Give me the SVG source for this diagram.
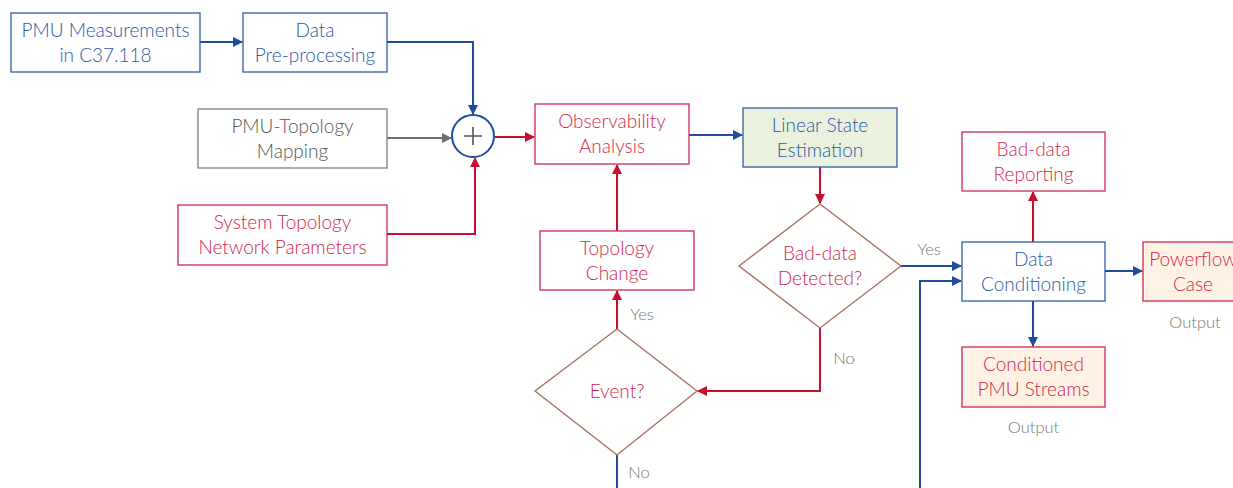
<svg xmlns="http://www.w3.org/2000/svg" width="1233" height="488" viewBox="0 0 1233 488">
  <defs>
    <style>
      text { font-family: Lato, "Noto Sans", "Liberation Sans", sans-serif; font-size: 19px; font-weight: 300; text-anchor: middle; }
      .blue { fill: #ffffff; stroke: #2f5ca8; stroke-width: 1.3; }
      .red { fill: #ffffff; stroke: #d3264f; stroke-width: 1.3; }
      .gray { fill: #ffffff; stroke: #7f7f7f; stroke-width: 1.3; }
      .green { fill: #eaf1dc; stroke: #2f5ca8; stroke-width: 1.3; }
      .out { fill: #fdf2e4; stroke: #d3264f; stroke-width: 1.3; }
      .dia { fill: #ffffff; stroke: #a56d5a; stroke-width: 1.3; }
      .tb { fill: #2b58a8; }
      .tr { fill: #d01f4c; }
      .tg { fill: #555555; }
      .lbl { fill: #777777; font-size: 16.5px; }
      .cb { fill: none; stroke: #1f4c9c; stroke-width: 2; }
      .cr { fill: none; stroke: #c8102e; stroke-width: 2; }
      .cg { fill: none; stroke: #6f6f6f; stroke-width: 2; }
    </style>
    <marker id="ab" viewBox="0 0 10 10" refX="9" refY="5" markerWidth="5" markerHeight="5" orient="auto">
      <path d="M0,0 L10,5 L0,10 z" fill="#1f4c9c"/>
    </marker>
    <marker id="ar" viewBox="0 0 10 10" refX="9" refY="5" markerWidth="5" markerHeight="5" orient="auto">
      <path d="M0,0 L10,5 L0,10 z" fill="#c8102e"/>
    </marker>
    <marker id="ag" viewBox="0 0 10 10" refX="9" refY="5" markerWidth="5" markerHeight="5" orient="auto">
      <path d="M0,0 L10,5 L0,10 z" fill="#6f6f6f"/>
    </marker>
  </defs>

  <g id="connectors">
    <path class="cb" d="M200,42 H242" marker-end="url(#ab)"/>
    <path class="cb" d="M387,42 H473 V114" marker-end="url(#ab)"/>
    <path class="cg" d="M387,138 H451" marker-end="url(#ag)"/>
    <path class="cr" d="M387,234 H475 V158" marker-end="url(#ar)"/>
    <path class="cr" d="M495,137 H534" marker-end="url(#ar)"/>
    <path class="cb" d="M689,135 H742" marker-end="url(#ab)"/>
    <path class="cr" d="M820,167 V203" marker-end="url(#ar)"/>
    <path class="cb" d="M901,266 H961" marker-end="url(#ab)"/>
    <path class="cb" d="M920,488 V281 H961" marker-end="url(#ab)"/>
    <path class="cr" d="M820,328 V391 H698" marker-end="url(#ar)"/>
    <path class="cr" d="M617,329 V291" marker-end="url(#ar)"/>
    <path class="cr" d="M617,231 V165" marker-end="url(#ar)"/>
    <path class="cb" d="M617,455 V488"/>
    <path class="cr" d="M1033,242 V192" marker-end="url(#ar)"/>
    <path class="cb" d="M1033,301 V346" marker-end="url(#ab)"/>
    <path class="cb" d="M1105,271 H1142" marker-end="url(#ab)"/>
  </g>

  <g id="pmu-measurements">
    <rect class="blue" x="11" y="13" width="189" height="59"/>
    <text class="tb" x="105.5" y="37">PMU Measurements</text>
    <text class="tb" x="105.5" y="62">in C37.118</text>
  </g>
  <g id="data-preprocessing">
    <rect class="blue" x="243" y="13" width="144" height="59"/>
    <text class="tb" x="315" y="37">Data</text>
    <text class="tb" x="315" y="62">Pre-processing</text>
  </g>
  <g id="pmu-topology-mapping">
    <rect class="gray" x="198" y="109" width="189" height="59"/>
    <text class="tg" x="292.5" y="133">PMU-Topology</text>
    <text class="tg" x="292.5" y="158">Mapping</text>
  </g>
  <g id="system-topology">
    <rect class="red" x="178" y="205" width="209" height="60"/>
    <text class="tr" x="282.5" y="229">System Topology</text>
    <text class="tr" x="282.5" y="254">Network Parameters</text>
  </g>
  <g id="summing-junction">
    <circle cx="473" cy="136" r="21" fill="#ffffff" stroke="#1f4c9c" stroke-width="2"/>
    <path d="M464,136 H482 M473,127 V145" stroke="#555555" stroke-width="1.6" fill="none"/>
  </g>
  <g id="observability-analysis">
    <rect class="red" x="535" y="104" width="154" height="60"/>
    <text class="tr" x="612" y="128">Observability</text>
    <text class="tr" x="612" y="153">Analysis</text>
  </g>
  <g id="linear-state-estimation">
    <rect class="green" x="743" y="108" width="154" height="59"/>
    <text class="tb" x="820" y="132">Linear State</text>
    <text class="tb" x="820" y="157">Estimation</text>
  </g>
  <g id="bad-data-detected">
    <polygon class="dia" points="820,204 901,266 820,328 739,266"/>
    <text class="tr" x="820" y="260">Bad-data</text>
    <text class="tr" x="820" y="285">Detected?</text>
  </g>
  <g id="topology-change">
    <rect class="red" x="540" y="231" width="154" height="59"/>
    <text class="tr" x="617" y="255">Topology</text>
    <text class="tr" x="617" y="280">Change</text>
  </g>
  <g id="event">
    <polygon class="dia" points="617,329 697,391 617,455 535,391"/>
    <text class="tr" x="617" y="398">Event?</text>
  </g>
  <g id="bad-data-reporting">
    <rect class="red" x="962" y="132" width="143" height="59"/>
    <text class="tr" x="1033.5" y="156">Bad-data</text>
    <text class="tr" x="1033.5" y="181">Reporting</text>
  </g>
  <g id="data-conditioning">
    <rect class="blue" x="962" y="242" width="143" height="59"/>
    <text class="tb" x="1033.5" y="266">Data</text>
    <text class="tb" x="1033.5" y="291">Conditioning</text>
  </g>
  <g id="powerflow-case">
    <rect class="out" x="1143" y="242" width="100" height="59"/>
    <text class="tr" x="1193" y="266">Powerflow</text>
    <text class="tr" x="1193" y="291">Case</text>
    <text class="lbl" x="1195" y="328">Output</text>
  </g>
  <g id="conditioned-pmu-streams">
    <rect class="out" x="962" y="347" width="143" height="60"/>
    <text class="tr" x="1033.5" y="371">Conditioned</text>
    <text class="tr" x="1033.5" y="396">PMU Streams</text>
    <text class="lbl" x="1033.5" y="433">Output</text>
  </g>

  <g id="branch-labels">
    <text class="lbl" x="929" y="255">Yes</text>
    <text class="lbl" x="844" y="364">No</text>
    <text class="lbl" x="642" y="320">Yes</text>
    <text class="lbl" x="639" y="478">No</text>
  </g>
</svg>
